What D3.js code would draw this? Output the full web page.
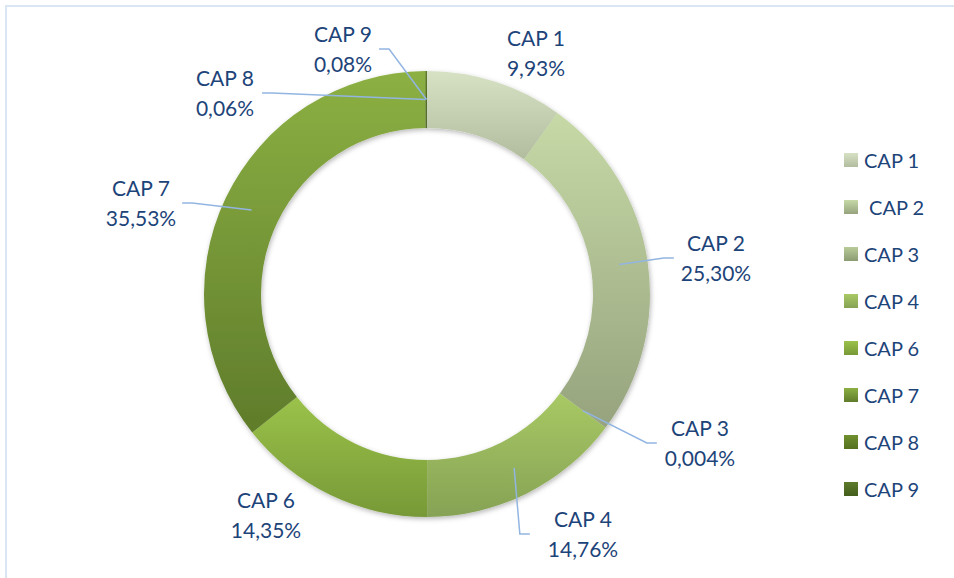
<!DOCTYPE html>
<html>
<head>
  <meta charset='utf-8'>
  <title>CAP</title>
  <script src='https://cdn.jsdelivr.net/npm/d3@7'></script>
  <style>
    body { margin: 0; background: #fff; }
  </style>
</head>
<body>
<script>
  // data
  const caps = ['CAP 1', 'CAP 2', 'CAP 3', 'CAP 4', 'CAP 6', 'CAP 7', 'CAP 8', 'CAP 9'];
  const shares = [9.93, 25.30, 0.004, 14.76, 14.35, 35.53, 0.06, 0.08];
  const pctLabels = ['9,93%', '25,30%', '0,004%', '14,76%', '14,35%', '35,53%', '0,06%', '0,08%'];
  const legendNames = ['CAP 1', ' CAP 2', 'CAP 3', 'CAP 4', 'CAP 6', 'CAP 7', 'CAP 8', 'CAP 9'];

  const colTop = ['#d7e2c5', '#c6d9a6', '#b8cb98', '#a8c964', '#9bc24a', '#8cb043', '#6f902f', '#5d7b2b'];
  const colBottom = ['#b2bd9f', '#96a37e', '#8c9c72', '#86a255', '#779937', '#5f7c2b', '#55711f', '#445e1c'];

  // label block centres relative to the donut centre (hand placed in the original)
  const labelOffset = [[109, -241], [289, -36], [273, 149], [156, 240], [-161, 221], [-286, -91], [-202, -201], [-84, -245]];
  const withLeader = ['CAP 2', 'CAP 3', 'CAP 4', 'CAP 7', 'CAP 8', 'CAP 9'];
  const leaderGap = [9, 7, 8, 18, 9, 6, 8, 7];

  const width = 954;
  const height = 578;
  const cx = 427, cy = 294;
  const outerR = 223, innerR = 166;

  const svg = d3.select('body').append('svg')
    .attr('width', width)
    .attr('height', height)
    .style('display', 'block');

  const defs = svg.append('defs');

  caps.forEach((c, i) => {
    const g = defs.append('linearGradient')
      .attr('id', 'grad' + i)
      .attr('x1', 0).attr('y1', 0).attr('x2', 0).attr('y2', 1);
    g.append('stop').attr('offset', '0%').attr('stop-color', colTop[i]);
    g.append('stop').attr('offset', '100%').attr('stop-color', colBottom[i]);
  });

  defs.append('filter')
    .attr('id', 'shadow')
    .attr('x', '-20%').attr('y', '-20%').attr('width', '140%').attr('height', '140%')
    .append('feDropShadow')
    .attr('dx', 1).attr('dy', 2)
    .attr('stdDeviation', 2.5)
    .attr('flood-color', '#000')
    .attr('flood-opacity', 0.28);

  // chart frame
  svg.append('rect')
    .attr('x', 6).attr('y', 6)
    .attr('width', width + 20).attr('height', height + 20)
    .attr('fill', 'none')
    .attr('stroke', '#dbe6f5')
    .attr('stroke-width', 2);

  const pie = d3.pie().sort(null).value(d => d)
    .startAngle(0).endAngle(2 * Math.PI);
  const arcs = pie(shares);

  const arc = d3.arc().innerRadius(innerR).outerRadius(outerR);
  const midArc = d3.arc().innerRadius((innerR + outerR) / 2).outerRadius((innerR + outerR) / 2);

  const chart = svg.append('g').attr('transform', `translate(${cx},${cy})`);

  chart.append('g')
    .attr('filter', 'url(#shadow)')
    .selectAll('path')
    .data(arcs)
    .join('path')
    .attr('d', arc)
    .attr('fill', (d, i) => `url(#grad${i})`);

  const fontFamily = 'Lato, "Open Sans", sans-serif';
  const textColor = '#1d4479';

  const labels = chart.append('g')
    .attr('font-family', fontFamily)
    .attr('font-size', 21)
    .attr('fill', textColor)
    .attr('text-anchor', 'middle')
    .selectAll('text')
    .data(arcs)
    .join('text')
    .attr('transform', (d, i) => `translate(${labelOffset[i][0]},${labelOffset[i][1]})`);

  labels.append('tspan').attr('x', 0).attr('y', -7.5).text((d, i) => caps[i]);
  labels.append('tspan').attr('x', 0).attr('y', 22.5).text((d, i) => pctLabels[i]);

  // leader lines from slice middle to the side of the label block
  const leaders = [];
  labels.each(function (d, i) {
    if (!withLeader.includes(caps[i])) return;
    const bb = this.getBBox();
    const [lx, ly] = labelOffset[i];
    const start = midArc.centroid(d);
    const right = lx > start[0];
    const endX = right ? lx + bb.x - leaderGap[i] : lx + bb.x + bb.width + leaderGap[i];
    const elbowX = right ? endX - 10 : endX + 10;
    leaders.push([start, [elbowX, ly], [endX, ly]]);
  });

  chart.insert('g', 'g:last-of-type')
    .attr('fill', 'none')
    .attr('stroke', '#92b5e2')
    .attr('stroke-width', 1.5)
    .selectAll('path')
    .data(leaders)
    .join('path')
    .attr('d', d3.line());

  // legend
  const legendY = d3.scaleBand().domain(caps).range([136.5, 512.5]);
  const legend = svg.append('g')
    .selectAll('g')
    .data(caps)
    .join('g')
    .attr('transform', d => `translate(844,${legendY(d) + legendY.bandwidth() / 2})`);

  legend.append('rect')
    .attr('x', 0).attr('y', -7)
    .attr('width', 14).attr('height', 14)
    .attr('fill', (d, i) => `url(#grad${i})`);

  legend.append('text')
    .attr('x', 20).attr('y', 7.5)
    .attr('font-family', fontFamily)
    .attr('font-size', 20)
    .attr('fill', textColor)
    .style('white-space', 'pre')
    .text((d, i) => legendNames[i]);
</script>
</body>
</html>
